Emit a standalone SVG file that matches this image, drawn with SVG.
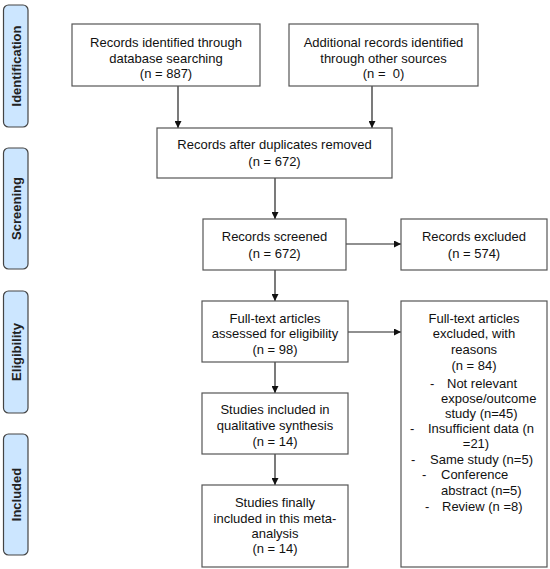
<svg xmlns="http://www.w3.org/2000/svg" width="550" height="569" viewBox="0 0 550 569">
<defs>
<marker id="ah" viewBox="0 0 10 10" refX="10" refY="5" markerWidth="7" markerHeight="7" markerUnits="userSpaceOnUse" orient="auto"><path d="M0,0 L10,5 L0,10 z" fill="#111"/></marker>
<style>
.side{fill:#cce6ff;stroke:#444;stroke-width:1.2}
.st{font-family:"Liberation Sans",Arial,sans-serif;font-size:13px;font-weight:bold;fill:#222;text-anchor:middle}
.box{fill:#fff;stroke:#555;stroke-width:1.2}
.t{font-family:"Liberation Sans",Arial,sans-serif;font-size:13px;fill:#111;text-anchor:middle}
.l{font-family:"Liberation Sans",Arial,sans-serif;font-size:13px;fill:#111}
.c{stroke:#222;stroke-width:1.2;fill:none;marker-end:url(#ah)}
</style>
</defs>
<g id="phase-identification"><rect class="side" x="3.5" y="5" width="24.5" height="122" rx="5"/><text class="st" transform="translate(20.5,66) rotate(-90)">Identification</text></g>
<g id="phase-screening"><rect class="side" x="3.5" y="148" width="24.5" height="121" rx="5"/><text class="st" transform="translate(20.5,208.5) rotate(-90)">Screening</text></g>
<g id="phase-eligibility"><rect class="side" x="3.5" y="291" width="24.5" height="122" rx="5"/><text class="st" transform="translate(20.5,352) rotate(-90)">Eligibility</text></g>
<g id="phase-included"><rect class="side" x="3.5" y="434" width="24.5" height="121" rx="5"/><text class="st" transform="translate(20.5,494.5) rotate(-90)">Included</text></g>

<g id="connectors">
<line class="c" x1="178" y1="86" x2="178" y2="128"/>
<line class="c" x1="372" y1="86" x2="372" y2="128"/>
<line class="c" x1="275" y1="178" x2="275" y2="219"/>
<line class="c" x1="275" y1="270" x2="275" y2="301"/>
<line class="c" x1="275" y1="362" x2="275" y2="393"/>
<line class="c" x1="275" y1="454" x2="275" y2="485"/>
<line class="c" x1="346" y1="244" x2="401" y2="244"/>
<line class="c" x1="348" y1="332" x2="401" y2="332"/>
</g>

<g id="db-records"><rect class="box" x="72" y="24" width="188" height="62"/>
<text class="t" x="166" y="47">Records identified through</text>
<text class="t" x="166" y="62.5">database searching</text>
<text class="t" x="166" y="78">(n = 887)</text></g>

<g id="other-records"><rect class="box" x="289" y="24" width="189" height="62"/>
<text class="t" x="383.5" y="47">Additional records identified</text>
<text class="t" x="383.5" y="62.5">through other sources</text>
<text class="t" x="383.5" y="78">(n = &#160;0)</text></g>

<g id="deduplicated"><rect class="box" x="157" y="128" width="235" height="50"/>
<text class="t" x="274.5" y="149">Records after duplicates removed</text>
<text class="t" x="274.5" y="166">(n = 672)</text></g>

<g id="screened"><rect class="box" x="203" y="219" width="143" height="51"/>
<text class="t" x="274.5" y="241">Records screened</text>
<text class="t" x="274.5" y="258">(n = 672)</text></g>

<g id="excluded"><rect class="box" x="401" y="219" width="146" height="51"/>
<text class="t" x="474" y="241">Records excluded</text>
<text class="t" x="474" y="258">(n = 574)</text></g>

<g id="fulltext"><rect class="box" x="202" y="301" width="146" height="61"/>
<text class="t" x="275" y="323">Full-text articles</text>
<text class="t" x="275" y="338">assessed for eligibility</text>
<text class="t" x="275" y="354">(n = 98)</text></g>

<g id="fulltext-excluded"><rect class="box" x="401" y="301" width="146" height="266"/>
<text class="t" x="474" y="323">Full-text articles</text>
<text class="t" x="474" y="338">excluded, with</text>
<text class="t" x="474" y="354">reasons</text>
<text class="t" x="474" y="370">(n = 84)</text>
<text class="l" x="430" y="388">-</text><text class="l" x="447" y="388">Not relevant</text>
<text class="l" x="441" y="403">expose/outcome</text>
<text class="l" x="445" y="418">study (n=45)</text>
<text class="l" x="410" y="433">-</text><text class="l" x="428" y="433">Insufficient data (n</text>
<text class="t" x="476" y="448">=21)</text>
<text class="l" x="411" y="464">-</text><text class="l" x="430" y="464">Same study (n=5)</text>
<text class="l" x="422" y="479">-</text><text class="l" x="441" y="479">Conference</text>
<text class="l" x="441" y="495">abstract (n=5)</text>
<text class="l" x="425" y="511">-</text><text class="l" x="442" y="511">Review (n =8)</text></g>

<g id="qualitative"><rect class="box" x="202" y="393" width="146" height="61"/>
<text class="t" x="275" y="414">Studies included in</text>
<text class="t" x="275" y="430">qualitative synthesis</text>
<text class="t" x="275" y="446">(n = 14)</text></g>

<g id="meta"><rect class="box" x="202" y="485" width="146" height="82"/>
<text class="t" x="275" y="507">Studies finally</text>
<text class="t" x="275" y="523">included in this meta-</text>
<text class="t" x="275" y="538">analysis</text>
<text class="t" x="275" y="553">(n = 14)</text></g>
</svg>
